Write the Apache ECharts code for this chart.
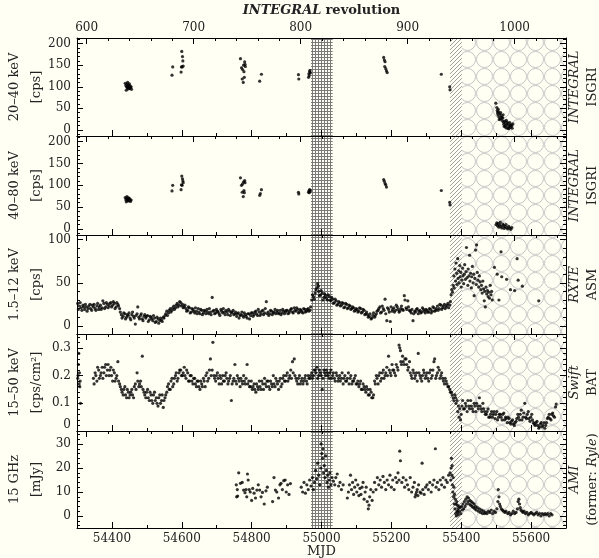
<!DOCTYPE html>
<html>
<head>
<meta charset="utf-8">
<script src="https://cdn.jsdelivr.net/npm/echarts@6/dist/echarts.min.js"></script>
<style>
html, body { margin: 0; padding: 0; background: #fffff4; }
#chartContainer { width: 599px; height: 558px; }
</style>
</head>
<body>
<div id="chartContainer"></div>
<script>
var FONT = 'DejaVu Serif';
var BG = '#fffff4';

var mjdRange = [54300, 55700];
var revRange = [591, 1048];

var gridBand = [54970, 55032];
var hatchBand = [55368, 55402];
var circleBand = [55402, 55700];

var isgriLow = [
	[54438,108],[54440,103],[54441,92],[54442,100],[54443,106],[54444,97],[54445,110],[54446,101],[54447,95],
	[54448,104],[54449,99],[54450,107],[54451,96],[54452,102],[54453,98],[54455,100],[54456,94],
	[54572,127],[54574,146],
	[54598,134],[54599,146],[54600,182],[54601,146],[54602,170],[54603,160],[54604,148],
	[54768,165],[54771,144],[54773,118],[54774,140],[54776,110],[54777,150],[54778,135],[54779,122],
	[54780,158],[54781,152],[54782,147],
	[54823,113],[54828,129],
	[54934,128],[54935,118],
	[54963,122],[54964,130],[54965,126],[54966,135],[54967,138],[54968,132],
	[55178,168],[55180,162],[55181,147],[55182,158],[55184,142],[55186,137],[55188,133],
	[55343,129],
	[55367,100],[55368,93],
	[55499,62],[55502,52],[55503,45],[55504,40],[55505,35],[55506,48],[55507,42],[55508,30],[55509,24],[55510,37],
	[55512,26],[55513,40],[55514,33],[55516,29],[55517,22],[55519,28],[55520,35],[55521,18],[55522,13],[55523,8],
	[55524,20],[55526,9],[55527,15],[55528,5],[55529,22],[55531,11],[55532,18],[55533,4],[55535,14],[55536,3],
	[55537,8],[55539,17],[55540,10],[55541,6],[55543,12],[55545,10],[55546,4],[55548,14]
];

var isgriHigh = [
	[54438,72],[54440,67],[54441,62],[54442,70],[54443,74],[54444,66],[54445,69],[54446,64],[54447,71],
	[54448,68],[54449,65],[54450,70],[54452,67],[54453,63],[54455,66],
	[54572,87],[54574,100],
	[54598,90],[54599,101],[54600,121],[54601,100],[54602,115],[54603,110],[54604,106],
	[54768,117],[54771,100],[54773,84],[54774,103],[54776,74],[54777,108],[54778,88],[54779,83],[54780,111],[54781,106],
	[54823,77],[54825,81],[54828,90],
	[54934,84],[54935,80],
	[54963,84],[54964,87],[54965,83],[54966,90],[54967,86],[54968,88],
	[55178,113],[55180,109],[55182,104],[55184,101],[55186,96],
	[55343,88],
	[55367,61],[55368,55],
	[55500,10],[55502,14],[55504,7],[55506,12],[55508,4],[55510,9],[55512,15],[55514,6],[55516,2],
	[55519,11],[55521,8],[55523,1],[55525,5],[55528,10],[55530,3],[55533,0],[55536,6],[55539,2],[55542,-1],[55545,3]
];

var asmRate = [
	[54302,26],[54307,23],[54312,21],[54317,24],[54322,19],[54327,22],[54332,20],[54337,25],[54342,18],[54347,22],
	[54352,20],[54357,23],[54362,19],[54367,24],[54372,21],[54377,26],[54382,22],[54387,25],[54392,23],[54397,27],
	[54402,24],[54407,26],[54412,22],[54417,25],[54422,20],[54427,13],[54432,11],[54437,14],[54442,10],[54447,12],
	[54452,9],[54457,13],[54462,11],[54467,2],[54472,14],[54477,10],[54482,12],[54487,8],[54492,11],[54497,9],
	[54502,12],[54507,7],[54512,10],[54517,6],[54522,9],[54527,5],[54532,8],[54537,6],[54542,7],[54547,10],
	[54552,12],[54557,17],[54562,15],[54567,20],[54572,18],[54577,23],[54582,21],[54587,26],[54592,24],[54597,27],
	[54602,25],[54607,22],[54612,20],[54617,18],[54622,21],[54627,16],[54632,19],[54637,15],[54642,17],[54647,20],
	[54652,14],[54657,18],[54662,15],[54667,17],[54672,19],[54677,14],[54682,16],[54687,33],[54692,18],[54697,15],
	[54702,17],[54707,14],[54712,19],[54717,15],[54722,16],[54727,18],[54732,13],[54737,17],[54742,15],[54747,18],
	[54752,14],[54757,11],[54762,15],[54767,12],[54772,16],[54777,10],[54782,13],[54787,9],[54792,14],[54797,12],
	[54802,15],[54807,13],[54812,17],[54817,12],[54822,16],[54827,14],[54832,18],[54837,15],[54842,28],[54847,16],
	[54852,14],[54857,17],[54862,15],[54867,19],[54872,16],[54877,14],[54882,18],[54887,15],[54892,17],[54897,16],
	[54902,18],[54907,15],[54912,19],[54917,16],[54922,21],[54927,17],[54932,19],[54937,16],[54942,18],[54947,15],
	[54952,19],[54957,17],[54962,20],[54967,18],[54972,30],[54977,34],[54982,38],[54987,44],[54989,49],[54992,40],[54997,36],
	[55002,38],[55007,33],[55012,35],[55017,30],[55022,34],[55027,29],[55032,31],[55037,27],[55042,29],[55047,25],
	[55052,27],[55057,24],[55062,26],[55067,22],[55072,25],[55077,21],[55082,23],[55087,20],[55092,21],[55097,18],
	[55102,19],[55107,17],[55112,20],[55117,16],[55122,18],[55127,14],[55132,13],[55137,11],[55142,8],[55147,12],
	[55152,10],[55157,14],[55162,18],[55167,22],[55172,16],[55177,20],[55182,31],[55187,6],[55192,19],[55197,5],
	[55202,17],[55207,21],[55212,18],[55217,22],[55222,16],[55227,20],[55232,19],[55237,35],[55242,21],[55247,29],
	[55252,18],[55257,15],[55262,6],[55267,17],[55272,19],[55277,14],[55282,18],[55287,16],[55292,19],[55297,15],
	[55302,18],[55307,16],[55312,19],[55317,17],[55322,21],[55327,18],[55332,23],[55337,20],[55342,24],[55347,21],
	[55352,25],[55357,22],[55362,26],[55367,24],
	[54304,19],[54309,27],[54314,18],[54319,22],[54324,25],[54329,17],[54334,23],[54339,20],[54344,24],
	[54349,25],[54354,18],[54359,26],[54364,22],[54369,19],[54374,29],[54379,20],[54384,27],[54389,21],[54394,26],
	[54399,22],[54404,28],[54409,20],[54414,27],[54419,23],[54424,16],[54429,9],[54434,15],[54439,8],[54444,13],
	[54449,15],[54454,7],[54459,16],[54464,9],[54469,12],[54474,22],[54479,8],[54484,14],[54489,6],[54494,13],
	[54499,11],[54504,5],[54509,11],[54514,8],[54519,12],[54524,4],[54529,10],[54534,3],[54539,9],[54544,5],
	[54549,9],[54554,14],[54559,12],[54564,18],[54569,16],[54574,21],[54579,19],[54584,24],[54589,22],[54594,28],
	[54599,23],[54604,21],[54609,24],[54614,17],[54619,22],[54624,15],[54629,20],[54634,17],[54639,21],[54644,14],
	[54649,16],[54654,19],[54659,13],[54664,18],[54669,14],[54674,16],[54679,20],[54684,13],[54689,17],[54694,14],
	[54699,19],[54704,16],[54709,12],[54714,17],[54719,20],[54724,13],[54729,16],[54734,19],[54739,12],[54744,16],
	[54749,13],[54754,16],[54759,14],[54764,9],[54769,13],[54774,12],[54779,15],[54784,11],[54789,14],[54794,8],
	[54799,15],[54804,11],[54809,16],[54814,14],[54819,19],[54824,12],[54829,17],[54834,13],[54839,20],[54844,14],
	[54849,12],[54854,18],[54859,13],[54864,16],[54869,14],[54874,18],[54879,15],[54884,13],[54889,19],[54894,14],
	[54899,18],[54904,14],[54909,17],[54914,20],[54919,15],[54924,18],[54929,21],[54934,15],[54939,19],[54944,16],
	[54949,20],[54954,16],[54959,19],[54964,17],[54969,22],[54974,36],[54979,31],[54984,42],[54991,46],[54994,35],
	[54999,41],[55004,30],[55009,37],[55014,32],[55019,36],[55024,30],[55029,33],[55034,26],[55039,31],[55044,24],
	[55049,28],[55054,23],[55059,27],[55064,21],[55069,26],[55074,20],[55079,24],[55084,19],[55089,22],[55094,17],
	[55099,20],[55104,16],[55109,21],[55114,15],[55119,19],[55124,13],[55129,16],[55134,10],[55139,14],[55144,9],
	[55149,15],[55154,12],[55159,17],[55164,20],[55169,15],[55174,23],[55179,18],[55184,14],[55189,21],[55194,16],
	[55199,22],[55204,19],[55209,16],[55214,24],[55219,19],[55224,17],[55229,23],[55234,18],[55239,30],[55244,19],
	[55249,22],[55254,17],[55259,19],[55264,14],[55269,16],[55274,20],[55279,17],[55284,15],[55289,21],[55294,17],
	[55299,19],[55304,16],[55309,20],[55314,15],[55319,22],[55324,17],[55329,20],[55334,18],[55339,25],[55344,19],
	[55349,23],[55354,20],[55359,24],[55364,21],[55369,28],
	[55371,36],[55373,42],[55375,39],[55377,47],[55379,58],[55380,44],[55382,66],[55384,52],[55385,73],[55387,61],
	[55388,48],[55390,78],[55391,55],[55393,64],[55394,50],[55396,70],[55397,57],[55399,62],[55400,45],[55402,53],
	[55404,67],[55405,58],[55407,49],[55409,60],[55410,71],[55412,54],[55414,63],[55415,91],[55417,56],[55419,47],
	[55420,66],[55422,58],[55424,82],[55425,52],[55427,61],[55429,44],[55430,57],[55432,69],[55434,50],[55436,60],
	[55437,35],[55439,55],[55441,88],[55443,48],[55444,94],[55446,62],[55448,53],[55450,45],[55452,58],[55454,51],
	[55456,42],[55458,47],[55460,38],[55462,52],[55464,43],[55466,29],[55467,40],[55469,22],[55471,45],[55473,37],
	[55475,41],[55477,34],[55479,39],[55481,32],[55483,47],[55485,36],[55487,40],[55489,30],[55495,68],[55503,60],
	[55508,30],[55514,86],[55516,57],[55530,54],[55541,42],[55553,41],[55560,78],[55563,53],[55575,46],[55622,29]
];

var batRate = [
	[54302,0.19],[54304,0.24],[54305,0.28],[54306,0.17],[54307,0.21],[54308,0.16],[54309,0.18],[54310,0.10],
	[54347,0.19],[54352,0.21],[54357,0.18],[54362,0.22],[54367,0.20],[54372,0.23],[54377,0.21],[54382,0.24],[54387,0.22],[54392,0.20],
	[54397,0.23],[54402,0.18],[54407,0.21],[54412,0.19],[54417,0.25],[54422,0.17],[54427,0.15],[54432,0.13],[54437,0.16],[54442,0.12],
	[54447,0.14],[54452,0.13],[54457,0.15],[54462,0.12],[54467,0.17],[54472,0.21],[54477,0.16],[54482,0.18],[54487,0.27],[54492,0.14],
	[54497,0.12],[54502,0.15],[54507,0.11],[54512,0.13],[54517,0.10],[54522,0.14],[54527,0.12],[54532,0.09],[54537,0.13],[54542,0.11],
	[54547,0.085],[54552,0.12],[54557,0.14],[54562,0.17],[54567,0.15],[54572,0.19],[54577,0.17],[54582,0.20],[54587,0.18],[54592,0.21],
	[54597,0.22],[54602,0.20],[54607,0.23],[54612,0.19],[54617,0.21],[54622,0.18],[54627,0.20],[54632,0.17],[54637,0.19],[54642,0.16],
	[54647,0.18],[54652,0.15],[54657,0.17],[54662,0.19],[54667,0.16],[54672,0.21],[54677,0.19],[54682,0.26],[54687,0.22],[54689,0.32],[54692,0.20],
	[54697,0.18],[54702,0.21],[54707,0.17],[54712,0.19],[54717,0.20],[54722,0.18],[54727,0.21],[54732,0.17],[54737,0.19],[54742,0.11],
	[54747,0.18],[54752,0.24],[54757,0.17],[54762,0.19],[54767,0.16],[54772,0.18],[54777,0.20],[54782,0.17],[54787,0.24],[54792,0.18],
	[54797,0.16],[54802,0.15],[54807,0.17],[54812,0.14],[54817,0.16],[54822,0.18],[54827,0.15],[54832,0.17],[54837,0.19],[54842,0.16],
	[54847,0.18],[54852,0.15],[54857,0.17],[54862,0.20],[54867,0.16],[54872,0.18],[54877,0.15],[54882,0.19],[54887,0.17],[54892,0.20],
	[54897,0.18],[54902,0.21],[54907,0.19],[54912,0.22],[54917,0.25],[54922,0.26],[54927,0.19],[54932,0.17],[54937,0.20],[54942,0.18],
	[54947,0.17],[54952,0.19],[54957,0.18],[54962,0.20],[54967,0.19],[54972,0.21],[54977,0.20],[54982,0.22],[54987,0.23],[54992,0.20],
	[54997,0.21],[55002,0.15],[55007,0.22],[55012,0.20],[55017,0.21],[55022,0.19],[55027,0.22],[55032,0.20],[55037,0.19],[55042,0.21],
	[55047,0.18],[55052,0.20],[55057,0.19],[55062,0.17],[55067,0.20],[55072,0.18],[55077,0.21],[55082,0.19],[55087,0.17],[55092,0.18],
	[55097,0.20],[55102,0.17],[55107,0.16],[55112,0.18],[55117,0.15],[55122,0.16],[55127,0.14],[55132,0.15],[55137,0.13],[55142,0.14],
	[55147,0.12],[55152,0.18],[55157,0.20],[55162,0.17],[55167,0.21],[55172,0.19],[55177,0.22],[55182,0.20],[55187,0.23],[55192,0.27],
	[55197,0.21],[55202,0.24],[55207,0.22],[55212,0.20],[55217,0.23],[55222,0.31],[55224,0.30],[55227,0.25],[55232,0.27],[55237,0.24],
	[55242,0.26],[55247,0.22],[55252,0.25],[55257,0.20],[55262,0.22],[55267,0.19],[55272,0.21],[55277,0.28],[55282,0.20],[55287,0.18],
	[55292,0.22],[55297,0.19],[55302,0.21],[55307,0.18],[55312,0.22],[55317,0.20],[55322,0.25],[55324,0.26],[55327,0.19],[55332,0.21],
	[55337,0.22],[55342,0.20],[55347,0.19],[55352,0.17],[55357,0.18],[55362,0.16],[55367,0.15],[55372,0.14],[55377,0.12],[55382,0.13],
	[55385,0.10],[55388,0.11],[55390,0.07],[55392,0.09],[55394,0.05],[55396,0.08],[55398,0.04],[55400,0.06],[55402,0.09],
	[55407,0.08],[55412,0.10],[55417,0.07],[55422,0.09],[55427,0.11],[55432,0.08],[55437,0.10],[55442,0.07],[55447,0.09],[55452,0.12],
	[55457,0.08],[55462,0.10],[55467,0.07],[55472,0.06],[55477,0.08],[55482,0.05],[55487,0.07],[55492,0.06],[55497,0.045],[55502,0.07],
	[55507,0.05],[55512,0.06],[55517,0.04],[55522,0.065],[55527,0.05],[55532,0.03],[55537,0.045],[55542,0.025],[55547,0.04],[55552,0.02],
	[55557,0.035],[55562,0.06],[55567,0.04],[55572,0.075],[55577,0.05],[55582,0.10],[55587,0.045],[55592,0.07],[55597,0.035],[55602,0.06],
	[55607,0.03],[55612,0.02],[55617,0.035],[55622,0.01],[55627,0.025],[55632,0.015],[55637,0.03],[55642,0.02],[55647,0.045],[55652,0.06],
	[55657,0.04],[55662,0.065],[55667,0.05],[55670,0.087],[55672,0.097],
	[54303,0.20],[54349,0.17],[54354,0.20],[54359,0.23],[54364,0.19],[54369,0.21],[54374,0.19],[54379,0.23],[54384,0.20],[54389,0.24],[54394,0.22],
	[54399,0.20],[54404,0.22],[54409,0.18],[54414,0.20],[54419,0.18],[54424,0.16],[54429,0.14],[54434,0.15],[54439,0.13],[54444,0.15],
	[54449,0.12],[54454,0.14],[54459,0.13],[54464,0.16],[54469,0.15],[54474,0.18],[54479,0.17],[54484,0.16],[54489,0.15],[54494,0.13],
	[54499,0.14],[54504,0.12],[54509,0.14],[54514,0.11],[54519,0.13],[54524,0.11],[54529,0.10],[54534,0.12],[54539,0.10],[54544,0.13],
	[54549,0.11],[54554,0.13],[54559,0.16],[54564,0.15],[54569,0.18],[54574,0.16],[54579,0.19],[54584,0.21],[54589,0.19],[54594,0.22],
	[54599,0.20],[54604,0.21],[54609,0.20],[54614,0.22],[54619,0.18],[54624,0.20],[54629,0.18],[54634,0.19],[54639,0.17],[54644,0.18],
	[54649,0.16],[54654,0.18],[54659,0.16],[54664,0.18],[54669,0.20],[54674,0.18],[54679,0.22],[54684,0.20],[54694,0.19],[54699,0.20],
	[54704,0.19],[54709,0.20],[54714,0.17],[54719,0.18],[54724,0.20],[54729,0.19],[54734,0.18],[54739,0.20],[54744,0.17],[54749,0.19],
	[54754,0.18],[54759,0.20],[54764,0.18],[54769,0.19],[54774,0.17],[54779,0.18],[54784,0.19],[54789,0.17],[54794,0.16],[54799,0.18],
	[54804,0.16],[54809,0.15],[54814,0.17],[54819,0.15],[54824,0.16],[54829,0.18],[54834,0.15],[54839,0.17],[54844,0.18],[54849,0.16],
	[54854,0.18],[54859,0.16],[54864,0.17],[54869,0.19],[54874,0.17],[54879,0.18],[54884,0.16],[54889,0.19],[54894,0.18],[54899,0.20],
	[54904,0.18],[54909,0.20],[54914,0.19],[54919,0.21],[54924,0.20],[54929,0.18],[54934,0.19],[54939,0.17],[54944,0.19],[54949,0.18],
	[54954,0.20],[54959,0.17],[54964,0.19],[54969,0.20],[54974,0.19],[54979,0.22],[54984,0.21],[54989,0.19],[54994,0.22],[54999,0.20],
	[55004,0.19],[55009,0.21],[55014,0.22],[55019,0.20],[55024,0.21],[55029,0.19],[55034,0.21],[55039,0.18],[55044,0.20],[55049,0.19],
	[55054,0.18],[55059,0.21],[55064,0.19],[55069,0.18],[55074,0.19],[55079,0.17],[55084,0.20],[55089,0.18],[55094,0.19],[55099,0.17],
	[55104,0.18],[55109,0.17],[55114,0.15],[55119,0.17],[55124,0.15],[55129,0.16],[55134,0.13],[55139,0.15],[55144,0.12],[55149,0.13],
	[55154,0.17],[55159,0.19],[55164,0.20],[55169,0.18],[55174,0.21],[55179,0.19],[55184,0.21],[55189,0.20],[55194,0.22],[55199,0.20],
	[55204,0.22],[55209,0.21],[55214,0.24],[55219,0.22],[55226,0.29],[55229,0.24],[55234,0.25],[55239,0.26],[55244,0.24],[55249,0.23],
	[55254,0.21],[55259,0.19],[55264,0.21],[55269,0.20],[55274,0.18],[55279,0.21],[55284,0.19],[55289,0.20],[55294,0.21],[55299,0.20],
	[55304,0.19],[55309,0.21],[55314,0.19],[55319,0.22],[55329,0.20],[55334,0.23],[55339,0.19],[55344,0.21],[55349,0.18],[55354,0.19],
	[55359,0.17],[55364,0.16],[55369,0.14],[55374,0.13],[55379,0.11],[55384,0.12],
	[55404,0.11],[55409,0.08],[55414,0.09],[55419,0.11],[55424,0.08],[55429,0.09],[55434,0.07],[55439,0.09],[55444,0.10],[55449,0.08],
	[55454,0.09],[55459,0.07],[55464,0.08],[55469,0.06],[55474,0.07],[55479,0.05],[55484,0.06],[55489,0.05],[55494,0.07],[55499,0.06],
	[55504,0.04],[55509,0.06],[55514,0.05],[55519,0.06],[55524,0.04],[55529,0.045],[55534,0.05],[55539,0.03],[55544,0.035],[55549,0.025],
	[55554,0.03],[55559,0.045],[55564,0.05],[55569,0.06],[55574,0.04],[55579,0.065],[55584,0.05],[55589,0.06],[55594,0.045],[55599,0.05],
	[55604,0.04],[55609,0.025],[55614,0.03],[55619,0.02],[55624,0.015],[55629,0.03],[55634,0.02],[55639,0.01],[55644,0.03],[55649,0.05],
	[55654,0.045],[55659,0.06],[55664,0.055]
];

var amiFlux = [
	[54756,13],[54757,8],[54759,11],[54760,8.3],[54763,18],[54768,13.6],[54773,14],[54777,10.8],[54781,9.7],[54784,11],
	[54786,8],[54788,17.5],[54790,15],[54793,11],[54796,10],[54800,6.5],[54803,11.5],[54807,9.5],[54811,7.5],[54815,10.8],
	[54819,13],[54823,10.8],[54827,8],[54831,9.8],[54836,5],[54841,10.5],[54845,12],[54860,6],[54864,16],[54868,10.8],
	[54872,10],[54877,7.5],[54881,13],[54884,13.6],[54888,11],[54892,14.7],[54896,15],[54899,10],[54903,13],[54907,9],[54911,13.5],
	[54942,12],[54946,10],[54950,14],[54954,9.5],[54958,13],[54962,11],[54966,15],[54970,12.5],[54974,16],[54977,11],
	[54980,14],[54983,19],[54986,15.5],[54989,22],[54992,17],[54995,13],[54998,20],[54999,30],[55001,26],[55003,24],
	[55004,28],[55006,18],[55008,21],[55010,16],[55012,25],[55014,19],[55016,14],[55018,17],[55020,12],[55022,15],
	[55024,18],[55027,13],[55030,16],
	[55034,14.5],[55038,13],[55041,16],[55045,17.5],[55049,12.5],[55053,14],[55057,11],[55062,13],
	[55074,7.5],[55077,10],[55080,13],[55083,17],[55086,11],[55089,14],[55092,9],[55095,12],[55098,15],[55101,10],
	[55104,13],[55107,8.5],[55110,11.5],[55113,9],[55116,12],[55119,14],[55122,7],[55125,10],[55128,12],[55131,6],
	[55134,3],[55136,4.5],[55138,8],[55141,11],[55145,6.5],[55148,10],
	[55152,14],[55156,11],[55160,16],[55164,13],[55168,15],[55172,12],[55176,16.5],[55180,14],[55184,11],[55188,15],
	[55192,13],[55196,17],[55200,12],[55204,15],[55208,11],[55212,16],[55216,14],[55219,18],[55222,15],[55224,27],[55226,23],
	[55230,14],[55234,16],[55238,12],[55242,15],[55246,13],[55250,11],[55254,16],[55258,10],[55262,12],[55266,14],
	[55268,8],[55270,9],[55272,10],[55274,11],[55276,8.5],[55278,13],[55282,10],[55285,9.5],[55288,22],[55290,11],
	[55294,9],[55298,12],
	[55302,13],[55306,11],[55310,14],[55314,10],[55318,13],[55322,15],[55326,28],[55328,12],[55332,14],[55336,11],
	[55340,15],[55344,13],[55348,16],[55352,12],[55356,15],[55360,14],[55364,17],
	[55368,18],[55370,15],[55371,20],[55372,24],[55373,17],[55374,21],[55375,13],[55376,10],[55377,16],[55378,8],
	[55379,12],[55380,5],[55381,9],
	[55382,3],[55383,7],[55384,1],[55385,5],[55386,0],[55387,6],[55388,2],[55389,4.5],[55390,1.5],[55391,3],
	[55392,0.5],[55393,4],[55395,2],[55397,3.5],[55399,1],[55401,4],[55403,2.5],[55405,5],[55407,3],[55409,6],
	[55411,4],[55413,7],[55415,5],[55417,8],[55419,6],[55421,7.5],[55423,5],[55425,6.5],[55427,4.5],[55429,6],
	[55431,4],[55433,5.5],[55435,3.5],[55437,5],[55439,3],[55441,4],[55443,2.5],[55446,3.5],[55449,2],[55452,3],
	[55455,1.5],[55458,2.5],[55461,1],[55464,2],[55467,1],[55470,1.5],[55474,1],
	[55478,2],[55482,1.5],[55486,2.5],[55490,1],[55494,2],[55498,1.5],[55502,3],[55505,6],[55506,11],[55508,8],
	[55510,5],[55512,4],[55515,3],[55518,2.5],[55521,2],[55525,1.5],[55528,2],
	[55533,1],[55537,1.5],[55541,0.5],[55545,1],[55549,2],[55553,1],[55557,1.5],[55561,3],[55563,6],[55565,7],
	[55567,5],[55569,3.5],[55571,2.5],[55574,2],[55577,1.5],[55580,2],[55584,1],[55588,1.5],[55592,0.5],[55596,1],
	[55600,1.5],[55604,1],[55608,0.5],[55612,1],[55616,1.5],[55620,0.5],[55624,1],[55628,0],[55632,1],[55636,0.5],
	[55640,1],[55644,0.5],[55648,1],[55652,0],[55656,1],[55660,0.5]
];

var panels = [
	{ data: isgriLow, yMin: -14, yMax: 213, split: 5, showMin: false,
	  left: '20–40 keV\n[cps]', right: '{i|INTEGRAL}\n{n|ISGRI}' },
	{ data: isgriHigh, yMin: -14, yMax: 213, split: 5, showMin: false,
	  left: '40–80 keV\n[cps]', right: '{i|INTEGRAL}\n{n|ISGRI}' },
	{ data: asmRate, yMin: -9.5, yMax: 105.5, split: 2, showMin: false,
	  left: '1.5–12 keV\n[cps]', right: '{i|RXTE}\n{n|ASM}' },
	{ data: batRate, yMin: 0, yMax: 0.35, split: 4, showMin: true,
	  left: '15–50 keV\n[cps/cm²]', right: '{i|Swift}\n{n|BAT}' },
	{ data: amiFlux, yMin: -5, yMax: 35.4, split: 5, showMin: false,
	  left: '15 GHz\n[mJy]', right: '{i|AMI}\n{n|(former: }{i|Ryle}{n|)}' }
];

var panelTop = [38, 136, 235, 334, 431];
var panelHeight = [98, 99, 99, 97, 97];

function makePattern(kind) {
	var c = document.createElement('canvas');
	var ctx;
	if (kind == 'grid') {
		c.width = 3; c.height = 3;
		ctx = c.getContext('2d');
		ctx.fillStyle = BG; ctx.fillRect(0, 0, 3, 3);
		ctx.fillStyle = '#7a7a7a';
		ctx.fillRect(0, 0, 3, 1);
		ctx.fillRect(0, 0, 1, 3);
	} else if (kind == 'hatch') {
		c.width = 4; c.height = 4;
		ctx = c.getContext('2d');
		ctx.fillStyle = BG; ctx.fillRect(0, 0, 4, 4);
		ctx.fillStyle = '#a0a0a0';
		for (var k = 0; k < 4; k++) ctx.fillRect(k, 3 - k, 1, 1);
	} else {
		c.width = 17; c.height = 17;
		ctx = c.getContext('2d');
		ctx.fillStyle = BG; ctx.fillRect(0, 0, 17, 17);
		ctx.strokeStyle = '#c4c4c4';
		ctx.lineWidth = 1;
		ctx.beginPath();
		ctx.arc(8.5, 8.5, 8, 0, Math.PI * 2);
		ctx.stroke();
	}
	return { image: c, repeat: 'repeat' };
}

function plainNumber(v) {
	return String(Math.round(v * 1000) / 1000);
}

var option = null;

window.onload = function() {
	initOption();
	var chartContainer = echarts.init(document.getElementById('chartContainer'));
	chartContainer.setOption(option);
};

function axisBase(i) {
	return {
		type: 'value', gridIndex: i, z: 10,
		axisLine: { show: true, onZero: false, lineStyle: { color: '#000', width: 1 } },
		axisTick: { show: true, inside: true, length: 6, lineStyle: { color: '#000', width: 1 } },
		minorTick: { show: true, splitNumber: 5, length: 3, lineStyle: { color: '#000', width: 1 } },
		splitLine: { show: false },
		nameMoveOverlap: false
	};
}

function initOption() {
	var grids = [], xAxes = [], yAxes = [], series = [];
	var patGrid = makePattern('grid'), patHatch = makePattern('hatch'), patCircle = makePattern('circle');

	panels.forEach(function(p, i) {
		var first = (i == 0), last = (i == panels.length - 1);
		grids.push({ left: 77, right: 33, top: panelTop[i], height: panelHeight[i],
			outerBoundsMode: 'none', containLabel: false });

		var mjd = axisBase(i);
		mjd.position = 'bottom';
		mjd.min = mjdRange[0]; mjd.max = mjdRange[1]; mjd.splitNumber = 7;
		mjd.minorTick.splitNumber = 2;
		mjd.axisLabel = { show: last, margin: 5, color: '#222', fontFamily: FONT, fontSize: 12,
			showMinLabel: false, showMaxLabel: false, formatter: plainNumber };
		if (last) {
			mjd.name = 'MJD';
			mjd.nameLocation = 'middle'; mjd.nameGap = 17;
			mjd.nameTextStyle = { fontFamily: FONT, fontSize: 13, color: '#222' };
		}
		xAxes.push(mjd);

		var rev = axisBase(i);
		rev.position = 'top';
		rev.min = revRange[0]; rev.max = revRange[1]; rev.splitNumber = 5;
		rev.axisLabel = { show: first, margin: 4, color: '#222', fontFamily: FONT, fontSize: 12,
			showMinLabel: false, showMaxLabel: false, formatter: plainNumber };
		if (first) {
			rev.name = '{bi|INTEGRAL} {b|revolution}';
			rev.nameLocation = 'middle'; rev.nameGap = 21;
			rev.nameTextStyle = { fontFamily: FONT, fontSize: 13, color: '#222',
				rich: { bi: { fontWeight: 'bold', fontStyle: 'italic' }, b: { fontWeight: 'bold' } } };
		}
		xAxes.push(rev);

		var yl = axisBase(i);
		yl.position = 'left';
		yl.min = p.yMin; yl.max = p.yMax; yl.splitNumber = p.split;
		yl.axisLabel = { margin: 6, color: '#222', fontFamily: FONT, fontSize: 12,
			showMinLabel: p.showMin, showMaxLabel: false, verticalAlignMinLabel: 'bottom', formatter: plainNumber };
		yl.name = p.left; yl.nameLocation = 'middle'; yl.nameRotate = 90; yl.nameGap = 29;
		yl.nameTextStyle = { fontFamily: FONT, fontSize: 13, color: '#222', lineHeight: 22 };
		yAxes.push(yl);

		var yr = axisBase(i);
		yr.position = 'right';
		yr.min = p.yMin; yr.max = p.yMax; yr.splitNumber = p.split;
		yr.axisLabel = { show: false };
		yr.name = p.right; yr.nameLocation = 'middle'; yr.nameRotate = 90; yr.nameGap = 0;
		yr.nameTextStyle = { fontFamily: FONT, fontSize: 13, color: '#222', lineHeight: 18,
			rich: { i: { fontStyle: 'italic', lineHeight: 18 }, n: { lineHeight: 18 } } };
		yAxes.push(yr);

		series.push({
			type: 'scatter', xAxisIndex: 2 * i, yAxisIndex: 2 * i,
			data: p.data, symbol: 'circle', symbolSize: 3.2, silent: true,
			itemStyle: { color: '#000' },
			markArea: {
				silent: true,
				data: [
					[{ xAxis: gridBand[0], itemStyle: { color: patGrid } }, { xAxis: gridBand[1] }],
					[{ xAxis: hatchBand[0], itemStyle: { color: patHatch } }, { xAxis: hatchBand[1] }],
					[{ xAxis: circleBand[0], itemStyle: { color: patCircle } }, { xAxis: circleBand[1] }]
				]
			}
		});
	});

	option = {
		backgroundColor: BG,
		animation: false,
		grid: grids,
		xAxis: xAxes,
		yAxis: yAxes,
		series: series
	};
}
</script>
</body>
</html>
